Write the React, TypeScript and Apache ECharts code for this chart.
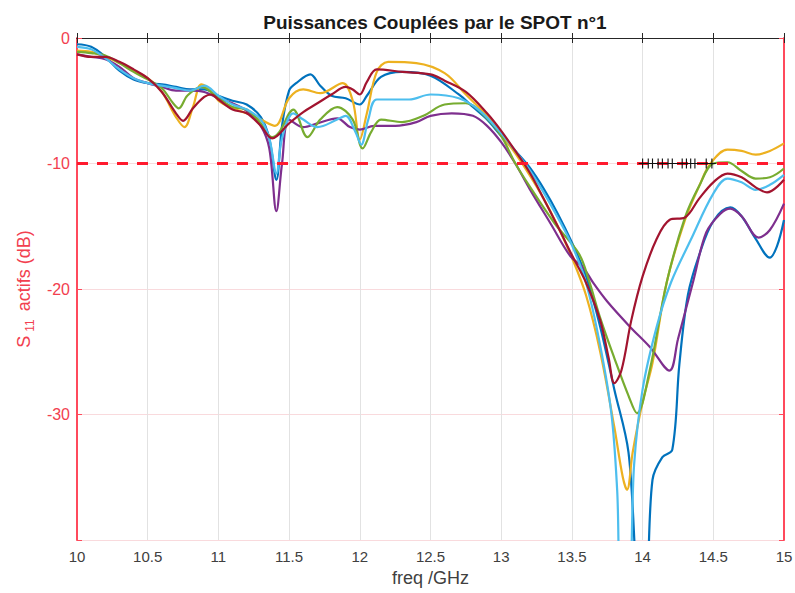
import React, { useEffect, useRef } from "react";
import * as echarts from "echarts";

const FONT = "'Liberation Sans', Arial, Helvetica, sans-serif";

// Frequencies (GHz) and S11 values (dB), one pair of arrays per curve
const blueF = [10, 10.1, 10.2, 10.3, 10.4, 10.5, 10.6, 10.7, 10.8, 10.9, 11.0, 11.1, 11.2, 11.3, 11.36, 11.41, 11.45, 11.5, 11.55, 11.65, 11.72, 11.8, 11.9, 12.0, 12.05, 12.15, 12.3, 12.5, 12.7, 12.8, 12.9, 13.0, 13.1, 13.2, 13.3, 13.4, 13.5, 13.6, 13.7, 13.8, 13.9, 13.98, 14.02, 14.07, 14.14, 14.21, 14.26, 14.32, 14.4, 14.5, 14.62, 14.7, 14.8, 14.9, 14.95, 15];
const blueDB = [-0.5, -0.7, -1.5, -2.6, -3.3, -3.6, -3.7, -3.9, -4.1, -4.1, -4.6, -5.0, -5.3, -6.3, -8, -11.3, -7, -4.2, -3.6, -2.9, -3.8, -4.6, -4.8, -5.3, -4.6, -3.1, -2.7, -3.0, -4.5, -5.5, -6.5, -7.8, -9.0, -10.3, -12, -14, -16.3, -19, -23, -28, -33, -44, -44, -35.2, -33.4, -32.8, -26, -20.5, -17.3, -14.6, -13.5, -14.2, -16, -17.5, -16.6, -14.5];

const yellowF = [10, 10.1, 10.2, 10.3, 10.4, 10.5, 10.6, 10.7, 10.76, 10.82, 10.88, 10.95, 11.0, 11.1, 11.2, 11.3, 11.4, 11.5, 11.6, 11.72, 11.88, 11.95, 12.0, 12.05, 12.12, 12.2, 12.4, 12.6, 12.75, 12.9, 13.0, 13.1, 13.2, 13.3, 13.4, 13.5, 13.6, 13.7, 13.8, 13.86, 13.89, 13.93, 14.0, 14.07, 14.17, 14.3, 14.4, 14.48, 14.6, 14.7, 14.8, 14.9, 15];
const yellowDB = [-1.0, -1.1, -1.5, -2.0, -2.6, -3.2, -4.3, -6.3, -7.1, -5.5, -3.7, -4.2, -5.0, -5.6, -6.0, -6.5, -7.0, -4.8, -4.1, -4.4, -3.6, -5.0, -8.1, -6.0, -2.7, -1.9, -2.0, -2.8, -4.5, -6.2, -7.7, -9.2, -10.9, -12.8, -15, -17.5, -20.5, -25, -31, -35, -36, -33, -29, -25.9, -19.5, -14.5, -11.8, -10, -8.9, -9.0, -9.3, -9.0, -8.4];

const purpleF = [10, 10.1, 10.2, 10.3, 10.4, 10.5, 10.6, 10.7, 10.8, 10.9, 11.0, 11.1, 11.2, 11.3, 11.36, 11.41, 11.45, 11.5, 11.6, 11.7, 11.84, 11.93, 12.0, 12.1, 12.25, 12.4, 12.5, 12.65, 12.8, 12.9, 13.0, 13.1, 13.2, 13.35, 13.49, 13.58, 13.65, 13.75, 13.91, 14.05, 14.19, 14.25, 14.36, 14.45, 14.55, 14.62, 14.7, 14.82, 14.9, 15];
const purpleDB = [-1.3, -1.5, -1.7, -2.3, -3.2, -3.6, -3.9, -4.2, -4.2, -4.3, -4.8, -5.2, -5.8, -7.0, -8.8, -13.8, -10, -6.5, -7.1, -6.8, -6.4, -7.1, -7.3, -7.0, -7.0, -6.7, -6.2, -6.0, -6.2, -7.0, -8.3, -10.0, -12, -14.8, -17.4, -18.3, -19.5, -21, -23, -24.6, -26.5, -24, -19.3, -15.5, -14, -13.6, -14.2, -15.9, -15.3, -13.2];

const greenF = [10, 10.1, 10.2, 10.3, 10.4, 10.5, 10.6, 10.68, 10.72, 10.78, 10.88, 11.0, 11.1, 11.2, 11.3, 11.38, 11.43, 11.53, 11.63, 11.72, 11.84, 11.95, 12.02, 12.08, 12.15, 12.3, 12.45, 12.6, 12.75, 12.9, 13.0, 13.1, 13.2, 13.38, 13.55, 13.62, 13.7, 13.8, 13.9, 13.96, 14.05, 14.17, 14.3, 14.4, 14.5, 14.6, 14.7, 14.8, 14.9, 15];
const greenDB = [-1.1, -1.2, -1.4, -2.0, -2.7, -3.3, -4.0, -5.2, -5.6, -4.6, -3.9, -4.8, -5.5, -5.7, -6.8, -7.9, -7.5, -5.7, -7.9, -6.5, -5.5, -6.5, -8.8, -7.5, -6.5, -6.7, -6.2, -5.3, -5.2, -6.4, -7.8, -10.0, -11.8, -14.8, -17.2, -19.3, -22.3, -25.5, -28.5, -29.9, -26.5, -19.5, -14.3, -11.8, -10, -9.9, -10.6, -11.2, -11.1, -10.4];

const lightBlueF = [10, 10.1, 10.2, 10.3, 10.4, 10.5, 10.6, 10.7, 10.8, 10.9, 11.0, 11.1, 11.2, 11.3, 11.36, 11.41, 11.45, 11.53, 11.6, 11.7, 11.84, 11.9, 11.97, 12.01, 12.06, 12.12, 12.35, 12.5, 12.7, 12.85, 13.0, 13.1, 13.2, 13.3, 13.4, 13.5, 13.6, 13.7, 13.78, 13.82, 13.85, 13.9, 13.94, 14.0, 14.1, 14.2, 14.34, 14.5, 14.6, 14.7, 14.8, 14.9, 15];
const lightBlueDB = [-0.7, -0.9, -1.6, -2.5, -3.2, -3.6, -3.8, -4.0, -4.2, -3.8, -4.6, -5.3, -5.7, -6.5, -8, -10.8, -8, -6, -6.5, -7.1, -6.5, -6.2, -7.5, -8.5, -6.5, -4.9, -4.9, -4.5, -4.8, -5.8, -7.6, -9.0, -10.5, -12.3, -14.3, -16.5, -19.5, -24.5, -30, -36, -44, -44, -34, -28, -23, -19.5, -16.1, -12.4, -11.2, -11.5, -12.1, -11.7, -10.9];

const darkRedF = [10, 10.1, 10.2, 10.3, 10.4, 10.5, 10.6, 10.7, 10.75, 10.82, 10.9, 10.95, 11.0, 11.1, 11.2, 11.3, 11.38, 11.5, 11.6, 11.7, 11.8, 11.9, 11.95, 12.0, 12.05, 12.12, 12.3, 12.5, 12.6, 12.75, 12.9, 13.0, 13.1, 13.2, 13.3, 13.4, 13.5, 13.6, 13.7, 13.76, 13.8, 13.85, 13.92, 14.0, 14.1, 14.19, 14.3, 14.4, 14.5, 14.6, 14.7, 14.8, 14.88, 15];
const darkRedDB = [-1.3, -1.5, -1.5, -1.9, -2.5, -3.2, -4.3, -6.0, -6.6, -5.6, -4.7, -4.5, -4.9, -5.7, -6.0, -7.0, -8.0, -6.8, -5.9, -5.2, -4.5, -3.9, -4.1, -4.5, -3.5, -2.5, -2.7, -2.9, -3.4, -4.3, -6.0, -7.4, -9.0, -10.7, -12.8, -15, -17.3, -19.5, -22.5, -25.5, -27.5, -26.5, -22.5, -19, -16, -14.5, -14.3, -12.8, -11.5, -10.8, -11.1, -11.9, -12.3, -11.3];

// -10 dB threshold and the black marks on it
const thresholdF = [10, 15];
const thresholdDB = -10;
const marksF = [14.0, 14.04, 14.07, 14.11, 14.14, 14.18, 14.21, 14.28, 14.31, 14.34, 14.37, 14.45, 14.49];

const zip = (f: number[], v: number[]) => f.map((x, i) => [x, v[i]]);

const curves = [
  { name: "c1", color: "#0072BD", f: blueF, v: blueDB },
  { name: "c2", color: "#EDB120", f: yellowF, v: yellowDB },
  { name: "c3", color: "#7E2F8E", f: purpleF, v: purpleDB },
  { name: "c4", color: "#77AC30", f: greenF, v: greenDB },
  { name: "c5", color: "#4DBEEE", f: lightBlueF, v: lightBlueDB },
  { name: "c6", color: "#A2142F", f: darkRedF, v: darkRedDB },
];

export default function App() {
  const ref = useRef<HTMLDivElement>(null);
  useEffect(() => {
    if (!ref.current) return;
    const chart = echarts.init(ref.current, undefined, { renderer: "svg" });
    const red = "#F2404F";
    const option: any = {
      animation: false,
      backgroundColor: "#ffffff",
      title: {
        text: "Puissances Couplées par le SPOT n°1",
        left: 430,
        textAlign: "center",
        top: 8,
        textStyle: { fontFamily: FONT, fontSize: 19, fontWeight: "bold", color: "#1a1a1a" },
      },
      grid: { left: 77, right: 11, top: 38, bottom: 53, containLabel: false, outerBoundsMode: "none" },
      xAxis: [
        {
          type: "value",
          min: 10,
          max: 15,
          interval: 0.5,
          position: "bottom",
          axisLine: { show: true, lineStyle: { color: "#262626", width: 1 } },
          axisTick: { show: true, inside: true, length: 5, lineStyle: { color: "#262626" } },
          axisLabel: { color: "#404040", fontSize: 15, fontFamily: FONT, margin: 9, formatter: (v: number) => String(v) },
          splitLine: { show: true, lineStyle: { color: "#E2E2E2", width: 1 } },
          name: "freq /GHz",
          nameLocation: "middle",
          nameGap: 29,
          nameTextStyle: { color: "#404040", fontSize: 18, fontFamily: FONT },
        },
        {
          type: "value",
          min: 10,
          max: 15,
          interval: 0.5,
          position: "top",
          axisLine: { show: true, lineStyle: { color: "#262626", width: 1 } },
          axisTick: { show: true, inside: true, length: 5, lineStyle: { color: "#262626" } },
          axisLabel: { show: false },
          splitLine: { show: false },
        },
      ],
      yAxis: [
        {
          type: "value",
          min: -40,
          max: 0,
          interval: 10,
          position: "left",
          axisLine: { show: true, lineStyle: { color: "#FF4A5C", width: 2 } },
          axisTick: { show: true, inside: true, length: 5, lineStyle: { color: "#FF4A5C" } },
          axisLabel: {
            color: red,
            fontSize: 16,
            fontFamily: FONT,
            margin: 7,
            formatter: (v: number) => (v === -40 ? "" : String(v)),
          },
          splitLine: { show: true, lineStyle: { color: "#F9DADD", width: 1 } },
          name: "{s|S}{sub|11}{t| actifs (dB)}",
          nameLocation: "middle",
          nameGap: 38,
          nameRotate: 90,
          nameTextStyle: {
            color: red,
            fontSize: 18,
            fontFamily: FONT,
            rich: {
              s: { color: red, fontSize: 18, fontFamily: FONT, lineHeight: 24 },
              sub: { color: red, fontSize: 12, fontFamily: FONT, verticalAlign: "bottom", lineHeight: 24, padding: [0, 3, 0, 4] },
              t: { color: red, fontSize: 18, fontFamily: FONT, lineHeight: 24 },
            },
          },
        },
        {
          type: "value",
          min: -40,
          max: 0,
          interval: 10,
          position: "right",
          axisLine: { show: true, lineStyle: { color: "#FF4A5C", width: 2 } },
          axisTick: { show: true, inside: true, length: 5, lineStyle: { color: "#FF4A5C" } },
          axisLabel: { show: false },
          splitLine: { show: false },
        },
      ],
      series: [
        ...curves.map((c) => ({
          name: c.name,
          type: "line",
          xAxisIndex: 0,
          yAxisIndex: 0,
          data: zip(c.f, c.v),
          smooth: 0.35,
          showSymbol: false,
          symbol: "none",
          clip: true,
          lineStyle: { color: c.color, width: 2.2 },
          itemStyle: { color: c.color },
          emphasis: { disabled: true },
        })),
        {
          name: "threshold",
          type: "line",
          data: thresholdF.map((f) => [f, thresholdDB]),
          showSymbol: false,
          symbol: "none",
          lineStyle: { color: "#FF1A2E", width: 3, type: [11, 9] },
          z: 5,
        },
        {
          name: "marks",
          type: "line",
          data: marksF.map((f) => [f, thresholdDB]),
          symbol: "path://M4.3,0 H5.7 V10 H4.3 Z M0,4.4 H10 V5.6 H0 Z",
          symbolSize: [8, 10],
          showSymbol: true,
          itemStyle: { color: "#111111" },
          lineStyle: { color: "#111111", width: 1 },
          z: 6,
        },
      ],
    };
    chart.setOption(option);
    return () => chart.dispose();
  }, []);
  return (
    <div
      ref={ref}
      style={{ position: "fixed", left: 0, top: 0, width: 795, height: 593, background: "#fff" }}
    />
  );
}
